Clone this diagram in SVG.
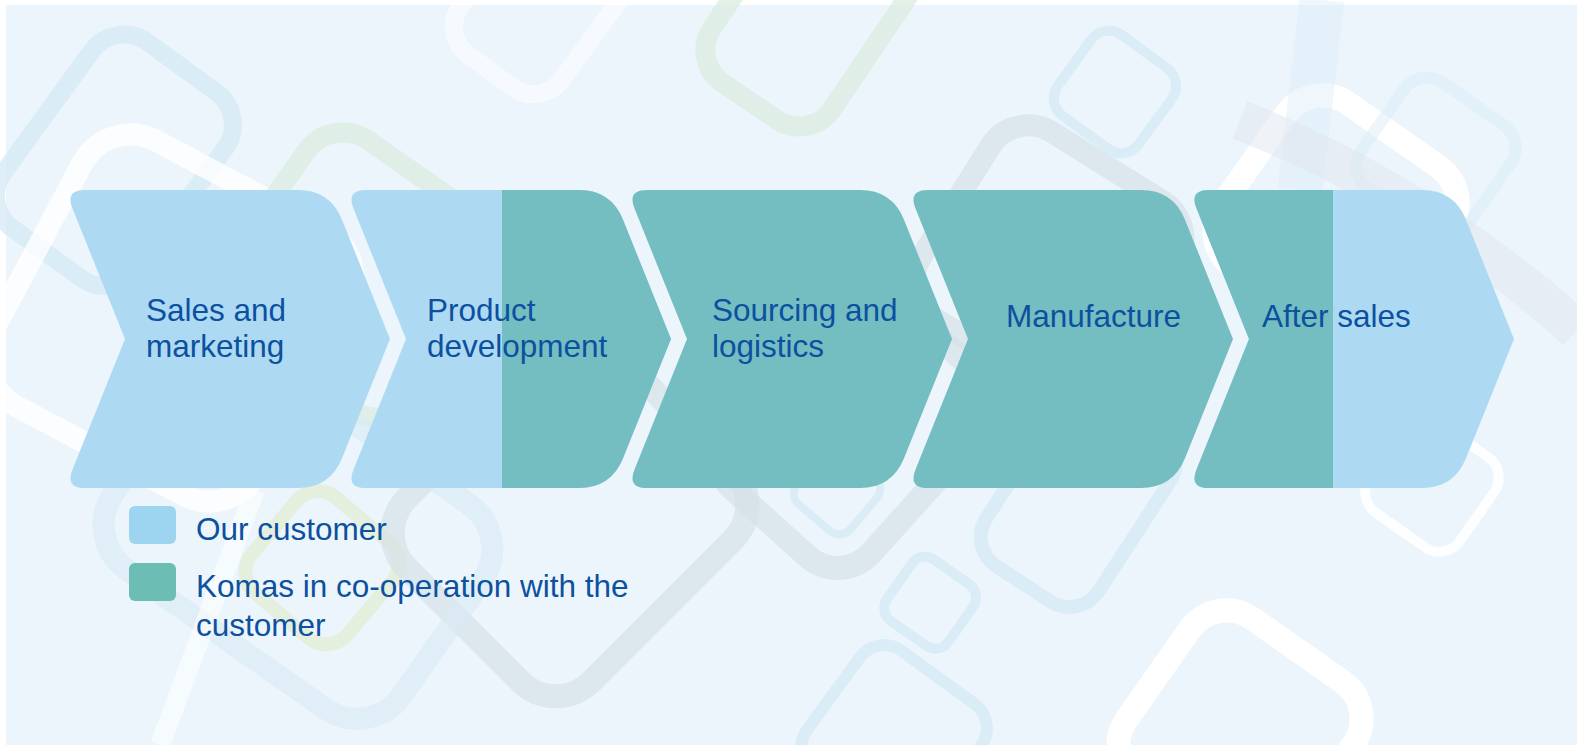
<svg xmlns="http://www.w3.org/2000/svg" xmlns:xlink="http://www.w3.org/1999/xlink" width="1577" height="745" viewBox="0 0 1577 745">
<style>
.lt{fill:#ADDAF2}
.tl{fill:#74BEC1}
.lbl{font-family:"Liberation Sans",Arial,sans-serif;font-size:31.5px;fill:#0C50A0}
.d{fill:none}
.w{stroke:#FFFFFF}
.b{stroke:#D3E8F4;stroke-opacity:0.7}
.g{stroke:#D6DEE6;stroke-opacity:0.65}
.gr{stroke:#DCEEE2;stroke-opacity:0.8}
</style>
<defs>
<path id="chev" d="M20,190 L233,190 Q265,190 277,219.7 L325,339 L277,458.3 Q265,488 233,488 L20,488 Q0,488 7.5,469.4 L60,339 L7.5,208.6 Q0,190 20,190 Z"/>
<clipPath id="chevClip"><use xlink:href="#chev"/></clipPath>
</defs>
<rect x="0" y="0" width="1577" height="745" fill="#FFFFFF"/>
<rect x="6" y="5" width="1571" height="740" fill="#ECF5FC"/>
<g id="background">
<rect class="d b" x="-82" y="-115" width="165" height="230" rx="40" stroke-width="18" transform="translate(114,160) rotate(36)"/>
<rect class="d w" x="-150" y="-150" width="300" height="300" rx="55" stroke-width="22" opacity="0.8" transform="translate(170,318) rotate(28)"/>
<rect class="d w" x="-62" y="-100" width="125" height="200" rx="35" stroke-width="18" opacity="0.5" transform="translate(549,-10) rotate(36)"/>
<rect class="d gr" x="-72" y="-110" width="145" height="220" rx="40" stroke-width="20" transform="translate(811,10) rotate(34)"/>
<rect class="d gr" x="-115" y="-115" width="230" height="230" rx="45" stroke-width="20" transform="translate(360,275) rotate(35)"/>
<rect x="-62" y="-62" width="125" height="125" rx="28" fill="none" stroke="#E2ECD3" stroke-opacity="0.75" stroke-width="14" transform="translate(322,567) rotate(40)"/>
<rect class="d g" x="-130" y="-150" width="260" height="300" rx="50" stroke-width="24" transform="translate(570,519) rotate(45)"/>
<rect class="d g" x="-95" y="-125" width="190" height="250" rx="45" stroke-width="24" transform="translate(854,430) rotate(42)"/>
<rect class="d g" x="-110" y="-110" width="220" height="220" rx="45" stroke-width="22" transform="translate(1049,260) rotate(32)"/>
<rect class="d b" x="-50" y="-50" width="100" height="100" rx="22" stroke-width="10" transform="translate(1115,92) rotate(36)"/>
<rect class="d b" x="-67" y="-100" width="134" height="200" rx="35" stroke-width="14" transform="translate(1078,500) rotate(33)"/>
<rect class="d b" x="-37" y="-37" width="75" height="75" rx="16" stroke-width="10" transform="translate(930,602) rotate(35)"/>
<rect class="d b" x="-75" y="-75" width="150" height="150" rx="30" stroke-width="12" transform="translate(894,738) rotate(36)"/>
<rect class="d b" x="-35" y="-35" width="70" height="70" rx="15" stroke-width="8" transform="translate(837,491) rotate(40)"/>
<rect class="d w" x="-100" y="-100" width="200" height="200" rx="45" stroke-width="24" transform="translate(1240,732) rotate(35)"/>
<rect class="d w" x="-55" y="-55" width="110" height="110" rx="25" stroke-width="10" opacity="0.85" transform="translate(1432,485) rotate(35)"/>
<rect class="d w" x="-100" y="-100" width="200" height="200" rx="45" stroke-width="24" transform="translate(1336,217) rotate(35)"/>
<rect class="d b" x="-65" y="-65" width="130" height="130" rx="28" stroke-width="12" opacity="0.55" transform="translate(1436,157) rotate(35)"/>
<rect x="-176" y="-125" width="352" height="250" rx="55" fill="none" stroke="#D8EAF5" stroke-opacity="0.65" stroke-width="22" transform="translate(298,537) rotate(35)"/>
<path d="M160,745 L255,490" fill="none" stroke="#FFFFFF" stroke-width="20" opacity="0.55"/>
<path d="M1322,0 L1300,190" fill="none" stroke="#DDEDF8" stroke-width="45" opacity="0.45"/>
<path d="M1240,120 Q1420,190 1577,330" fill="none" stroke="#DFE6ED" stroke-width="40" opacity="0.5"/>
</g>
<g id="connectors"></g>
<g id="node-sales" transform="translate(65,0)">
<use xlink:href="#chev" class="lt"/>
<text class="lbl" x="81" y="321">Sales and</text>
<text class="lbl" x="81" y="357">marketing</text>
</g>
<g id="node-product" transform="translate(346,0)">
<use xlink:href="#chev" class="lt"/>
<rect class="tl" x="156" y="180" width="200" height="320" clip-path="url(#chevClip)"/>
<text class="lbl" x="81" y="321">Product</text>
<text class="lbl" x="81" y="357">development</text>
</g>
<g id="node-sourcing" transform="translate(627,0)">
<use xlink:href="#chev" class="tl"/>
<text class="lbl" x="85" y="321">Sourcing and</text>
<text class="lbl" x="85" y="357">logistics</text>
</g>
<g id="node-manufacture" transform="translate(908,0)">
<use xlink:href="#chev" class="tl"/>
<text class="lbl" x="98" y="327">Manufacture</text>
</g>
<g id="node-aftersales" transform="translate(1189,0)">
<use xlink:href="#chev" class="lt"/>
<rect class="tl" x="-10" y="180" width="154" height="320" clip-path="url(#chevClip)"/>
<text class="lbl" x="73" y="327">After sales</text>
</g>
<g id="legend">
<g id="legend-customer">
<rect x="129" y="506" width="47" height="38" rx="6" fill="#9DD5F1"/>
<text class="lbl" x="196" y="540">Our customer</text>
</g>
<g id="legend-komas">
<rect x="129" y="563" width="47" height="38" rx="6" fill="#6CBEB4"/>
<text class="lbl" x="196" y="597">Komas in co-operation with the</text>
<text class="lbl" x="196" y="636">customer</text>
</g>
</g>
</svg>
